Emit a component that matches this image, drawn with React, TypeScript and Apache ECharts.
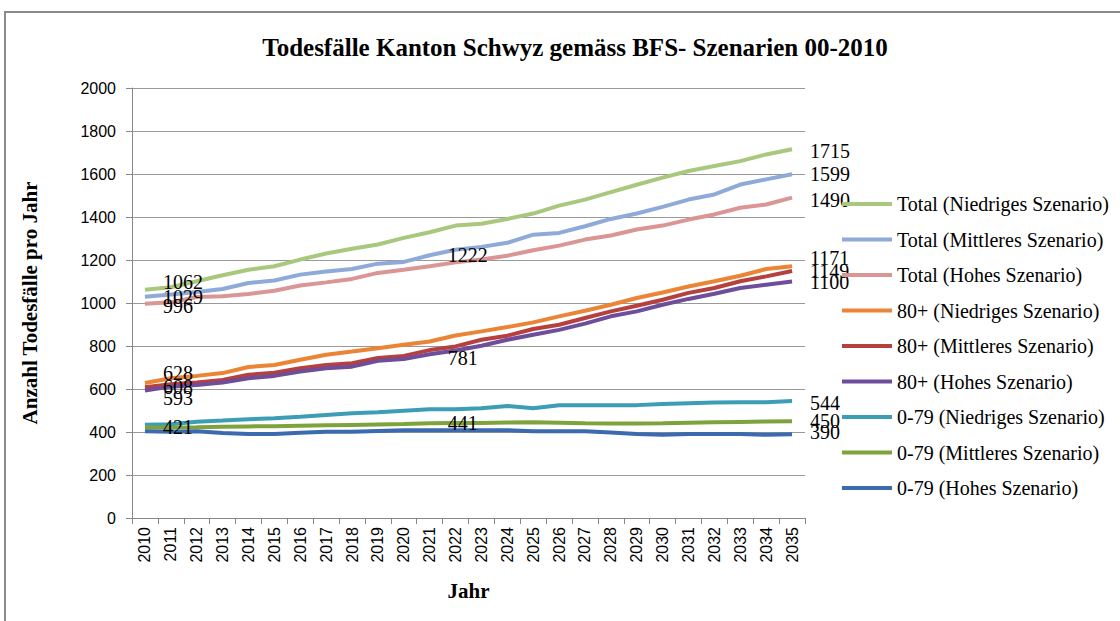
import React, { useEffect, useRef } from "react";
import * as echarts from "echarts";

const years = ["2010","2011","2012","2013","2014","2015","2016","2017","2018","2019","2020","2021","2022","2023","2024","2025","2026","2027","2028","2029","2030","2031","2032","2033","2034","2035"];

const seriesNames = [
  "Total (Niedriges Szenario)",
  "Total (Mittleres Szenario)",
  "Total (Hohes Szenario)",
  "80+ (Niedriges Szenario)",
  "80+ (Mittleres Szenario)",
  "80+ (Hohes Szenario)",
  "0-79 (Niedriges Szenario)",
  "0-79 (Mittleres Szenario)",
  "0-79 (Hohes Szenario)",
];

const totalNiedrig = [1062, 1073, 1101, 1129, 1155, 1171, 1202, 1230, 1252, 1272, 1303, 1329, 1360, 1369, 1391, 1416, 1453, 1481, 1516, 1550, 1583, 1614, 1637, 1660, 1691, 1715];
const totalMittel = [1029, 1039, 1051, 1065, 1093, 1105, 1132, 1147, 1158, 1183, 1191, 1222, 1248, 1261, 1280, 1318, 1326, 1357, 1391, 1416, 1447, 1481, 1505, 1551, 1575, 1599];
const totalHoch = [996, 1003, 1028, 1031, 1042, 1057, 1081, 1096, 1112, 1140, 1155, 1171, 1189, 1202, 1220, 1245, 1267, 1295, 1314, 1342, 1360, 1388, 1412, 1443, 1458, 1490];
const alt80Niedrig = [628, 650, 661, 674, 702, 712, 736, 759, 774, 790, 806, 821, 849, 868, 888, 910, 938, 964, 992, 1023, 1049, 1077, 1101, 1127, 1158, 1171];
const alt80Mittel = [608, 622, 630, 642, 666, 676, 697, 712, 720, 744, 754, 781, 798, 829, 848, 879, 899, 930, 961, 987, 1015, 1047, 1070, 1101, 1124, 1149];
const alt80Hoch = [593, 611, 619, 630, 650, 661, 681, 697, 704, 731, 739, 762, 779, 801, 829, 852, 875, 904, 938, 961, 992, 1019, 1043, 1070, 1085, 1100];
const jung079Niedrig = [434, 436, 448, 453, 459, 464, 471, 479, 487, 492, 499, 506, 506, 510, 521, 510, 524, 525, 525, 525, 530, 534, 537, 538, 538, 544];
const jung079Mittel = [421, 421, 422, 424, 426, 427, 429, 431, 433, 435, 437, 441, 442, 442, 444, 445, 443, 441, 440, 440, 441, 443, 445, 447, 449, 450];
const jung079Hoch = [403, 401, 403, 395, 391, 391, 397, 401, 401, 405, 408, 408, 408, 408, 408, 404, 404, 404, 398, 391, 387, 391, 391, 391, 387, 390];

const allValues = [totalNiedrig, totalMittel, totalHoch, alt80Niedrig, alt80Mittel, alt80Hoch, jung079Niedrig, jung079Mittel, jung079Hoch];

// indices of points that carry a data label per series
const labelIndices = [
  [0, 25],
  [0, 11, 25],
  [0, 25],
  [0, 25],
  [0, 11, 25],
  [0, 25],
  [25],
  [0, 11, 25],
  [25],
];
// vertical nudge of labels (series-index) -> dy
const labelNudge: Record<string, number> = {
  "0-0": -8, "2-0": 2, "3-0": -10, "5-0": 7, "4-11": 8, "3-25": -8, "6-25": 2, "8-25": -2, "0-25": 2, "2-25": 2,
};

const colors = ["#A9C87D", "#8EAAD8", "#D99695", "#EB8434", "#B5403D", "#6E4D9B", "#3C9DB6", "#7FA33C", "#3B6AAE"];

const serif = "Liberation Serif";
const sans = "Liberation Sans";

export default function App() {
  const ref = useRef<HTMLDivElement>(null);
  useEffect(() => {
    document.body.style.margin = "0";
    const chart = echarts.init(ref.current!, undefined, { renderer: "svg" });
    const series = allValues.map((vals, s) => ({
      name: seriesNames[s],
      type: "line",
      data: vals.map((v, i) =>
        labelIndices[s].includes(i)
          ? {
              value: v,
              label: {
                show: true,
                position: "right",
                distance: 18,
                offset: [0, labelNudge[`${s}-${i}`] || 0],
                color: "#000",
                fontSize: 20,
                fontFamily: serif,
              },
            }
          : v
      ),
      showSymbol: true,
      symbol: "circle",
      symbolSize: 0,
      lineStyle: { width: 4, color: colors[s] },
      itemStyle: { color: colors[s] },
      emphasis: { disabled: true },
      z: 2,
    }));
    chart.setOption({
      animation: false,
      backgroundColor: "#fff",
      title: {
        text: "Todesfälle Kanton Schwyz gemäss BFS- Szenarien 00-2010",
        left: 570,
        textAlign: "center",
        top: 30,
        textStyle: { fontFamily: serif, fontWeight: "bold", fontSize: 25, color: "#000" },
      },
      graphic: [
        {
          type: "rect",
          shape: { x: 5, y: 12, width: 1200, height: 700 },
          style: { fill: "none", stroke: "#8a8a8a", lineWidth: 2 },
          silent: true,
        },
      ],
      legend: {
        orient: "vertical",
        left: 837,
        top: 189,
        itemWidth: 50,
        itemHeight: 4,
        itemGap: 15.5,
        icon: "rect",
        data: seriesNames,
        textStyle: { fontFamily: serif, fontSize: 20, color: "#000", lineHeight: 20 },
      },
      grid: { left: 132, right: 315, top: 88, bottom: 103, containLabel: false },
      xAxis: {
        type: "category",
        data: years,
        boundaryGap: true,
        name: "Jahr",
        nameLocation: "middle",
        nameGap: 62,
        nameTextStyle: { fontFamily: serif, fontWeight: "bold", fontSize: 21, color: "#000" },
        axisLine: { lineStyle: { color: "#888", width: 1 } },
        axisTick: { show: true, interval: 0, length: 6, lineStyle: { color: "#888" } },
        axisLabel: { rotate: 90, interval: 0, margin: 9, fontFamily: sans, fontSize: 16, color: "#000" },
      },
      yAxis: {
        type: "value",
        min: 0,
        max: 2000,
        interval: 200,
        name: "Anzahl Todesfälle pro Jahr",
        nameLocation: "middle",
        nameGap: 92,
        nameRotate: 90,
        nameTextStyle: { fontFamily: serif, fontWeight: "bold", fontSize: 21, color: "#000" },
        axisLine: { show: true, lineStyle: { color: "#888", width: 1 } },
        axisTick: { show: true, length: 6, lineStyle: { color: "#888" } },
        axisLabel: {
          margin: 16,
          fontFamily: sans,
          fontSize: 16,
          color: "#000",
          formatter: (v: number) => String(v),
        },
        splitLine: { show: true, lineStyle: { color: "#999", width: 1 } },
      },
      series,
    });
    return () => chart.dispose();
  }, []);
  return <div ref={ref} style={{ width: 1120, height: 621 }} />;
}
